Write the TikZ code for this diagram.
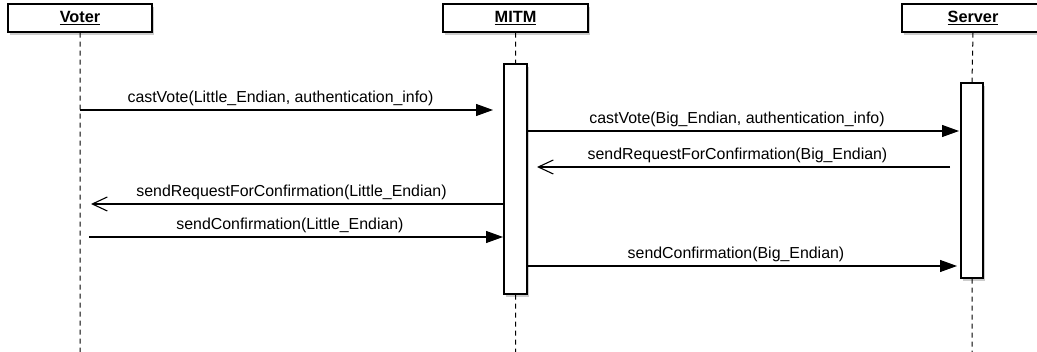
\documentclass[tikz,border=0pt]{standalone}
\usepackage{fontspec}
\setmainfont{Liberation Sans}
\usetikzlibrary{arrows.meta,shadows}

\begin{document}
\begin{tikzpicture}[x=1pt,y=-1pt]
	\tikzstyle{head}=[draw,line width=1.3pt,fill=white,minimum height=28pt,inner sep=0pt,
		font=\fontsize{16.3}{18}\selectfont\bfseries,
		drop shadow={shadow xshift=2pt,shadow yshift=-3pt,opacity=.4}];
	\tikzstyle{act}=[draw,line width=1.3pt,fill=white,minimum width=23pt,inner sep=0pt,
		drop shadow={shadow xshift=2pt,shadow yshift=-3pt,opacity=.4}];
	\tikzstyle{life}=[dash pattern=on 5pt off 4pt,line width=1pt];
	\tikzstyle{call}=[line width=1.1pt,-{Triangle[length=17pt,width=12pt]}];
	\tikzstyle{reply}=[line width=1.1pt,-{Straight Barb[length=15pt,width=14pt,line width=1.1pt]}];
	\tikzstyle{msg}=[above=2pt,inner sep=2pt,xshift=-6pt,font=\fontsize{15.9}{18}\selectfont];
	\useasboundingbox (0,0) rectangle (1037,352);
	% actors
	\node[head,minimum width=144pt] (voter) at (80,18) {\underline{Voter}};
	\node[head,minimum width=145pt] (mitm) at (515.5,18) {\underline{MITM}};
	\node[head,minimum width=142pt] (server) at (973,18) {\underline{Server}};
	% activations
	\node[act,minimum height=230pt] (mitmact) at (515.5,179) {};
	\node[act,minimum width=22pt,minimum height=195pt] (serveract) at (972,180.5) {};
	% lifelines
	\coordinate (voterend) at (80,352);
	\coordinate (mitmend) at (515.5,352);
	\coordinate (serverend) at (972,352);
	\draw[life] (voter.south) -- (voterend)
	(mitm.south) -- (mitmact.north)
	(mitmact.south) -- (mitmend)
	(server.south) -- (serveract.north)
	(serveract.south) -- (serverend);
	% message ends
	\coordinate (m1a) at (80,110);   \coordinate (m1b) at (493,110);
	\coordinate (m2a) at (527,131);  \coordinate (m2b) at (959,131);
	\coordinate (m3a) at (950,167);  \coordinate (m3b) at (537,167);
	\coordinate (m4a) at (504,204);  \coordinate (m4b) at (91,204);
	\coordinate (m5a) at (89,237);   \coordinate (m5b) at (503,237);
	\coordinate (m6a) at (527,266);  \coordinate (m6b) at (957,266);
	% messages
	\draw[call] (m1a) -- node[msg] {castVote(Little\_Endian, authentication\_info)} (m1b);
	\draw[call] (m2a) -- node[msg] {castVote(Big\_Endian, authentication\_info)} (m2b);
	\draw[reply] (m3a) -- node[msg] {sendRequestForConfirmation(Big\_Endian)} (m3b);
	\draw[reply] (m4a) -- node[msg] {sendRequestForConfirmation(Little\_Endian)} (m4b);
	\draw[call] (m5a) -- node[msg] {sendConfirmation(Little\_Endian)} (m5b);
	\draw[call] (m6a) -- node[msg] {sendConfirmation(Big\_Endian)} (m6b);
\end{tikzpicture}
\end{document}
